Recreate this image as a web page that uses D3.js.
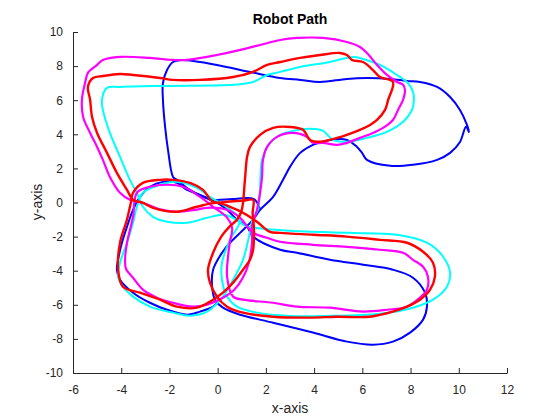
<!DOCTYPE html>
<html>
<head>
<meta charset="utf-8">
<script src="https://cdn.jsdelivr.net/npm/d3@7"></script>
<style>
  body { margin: 0; background: #fff; }
  svg { display: block; }
</style>
</head>
<body>
<div id="chart"></div>
<script>
// tick values
const xTicks = [-6, -4, -2, 0, 2, 4, 6, 8, 10, 12];
const yTicks = [-10, -8, -6, -4, -2, 0, 2, 4, 6, 8, 10];

// blue path: main closed route and the lower-left loop
const blueMain = [
  [-1.85,1.5],[-2.06,3.09],[-2.18,4.43],[-2.27,6.02],[-2.27,7.01],[-2.1,7.77],[-1.85,8.24],[-1.48,8.36],
  [-1.02,8.3],[-0.03,8.07],[1.34,7.66],[2.59,7.3],[3.42,7.19],[4.24,7.07],[5.36,7.25],[6.19,7.3],[7.15,7.25],
  [7.85,7.13],[8.39,7.07],[9.1,6.78],[9.64,6.19],[10.05,5.43],[10.34,4.55],[10.42,4.14],[10.3,4.45],
  [10.05,3.55],[9.64,2.91],[9.1,2.5],[8.1,2.21],[7.15,2.15],[6.19,2.5],[5.99,2.91],[5.78,3.26],[5.36,3.67],
  [4.66,3.67],[3.95,3.38],[3.42,2.91],[3.0,2.09],[2.71,1.33],[2.3,0.33],[1.76,-0.43],[1.47,-1.01],
  [0.93,-1.78],[0.51,-2.36],[0.18,-2.95],[-0.19,-3.94],[-0.23,-4.94],[-0.11,-5.7],[0.22,-6.17],[0.93,-6.58],
  [2.3,-7.05],[3.95,-7.63],[5.36,-8.16],[6.44,-8.34],[7.27,-8.16],[7.98,-7.63],[8.52,-6.87],[8.68,-6.11],
  [8.6,-5.29],[8.1,-4.41],[7.27,-3.94],[6.03,-3.65],[4.66,-3.36],[3.29,-2.95],[2.59,-2.77],[1.47,-2.0],
  [1.22,-1.42],[0.8,-1.01],[0.39,-0.43],[-0.03,0.0],[-0.61,0.33],[-1.15,0.74],[-1.69,1.33]
];
const blueLoop = [
  [1.75,-0.35],[1.5,0.2],[0.6,0.2],[-0.19,0.16],[-0.73,0.45],[-1.27,0.74],[-1.69,1.15],[-2.27,1.21],
  [-2.81,0.92],[-3.22,0.33],[-3.51,-0.43],[-3.76,-1.42],[-3.97,-2.36],[-4.13,-3.36],[-4.18,-3.94],
  [-4.05,-4.53],[-3.51,-5.29],[-2.81,-5.88],[-2.1,-6.29],[-1.27,-6.58],[-0.73,-6.4],[-0.19,-6.11],[0.1,-5.7]
];

// cyan path (closed route)
const cyanPath = [
  [-4.05,6.78],[-4.59,6.72],[-4.8,6.02],[-4.76,5.43],[-4.47,4.08],[-4.05,2.68],[-3.64,1.33],[-3.35,0.57],
  [-3.1,-0.25],[-2.68,-0.84],[-2.1,-1.13],[-1.27,-1.19],[-0.44,-0.9],[0.22,-0.72],[0.64,-0.9],[1.22,-1.4],
  [2.0,-1.55],[3.0,-1.65],[5.36,-1.78],[7.44,-1.89],[8.68,-2.36],[9.35,-3.18],[9.64,-4.12],[9.51,-4.94],
  [8.93,-5.7],[8.1,-6.17],[6.73,-6.52],[4.5,-6.65],[3.0,-6.65],[1.63,-6.46],[0.8,-6.11],[0.39,-5.52],
  [0.18,-4.53],[0.18,-3.53],[0.51,-2.19],[0.93,-1.01],[0.4,-0.3],[-0.32,0.33],[-0.86,0.86],[-1.69,1.21],
  [-2.39,1.04],[-3.1,0.57],[-3.35,-0.25],[-3.51,-1.19],[-3.76,-2.36],[-4.05,-3.53],[-4.13,-4.35],
  [-3.93,-4.94],[-3.51,-5.52],[-2.81,-6.11],[-1.85,-6.46],[-1.15,-6.64],[-0.44,-6.4],[0.22,-5.52],
  [0.64,-4.53],[1.05,-3.36],[1.3,-2.0],[1.45,-1.0],[1.67,-0.43],[1.76,0.92],[1.84,2.5],[2.17,3.5],
  [2.59,3.97],[3.12,4.2],[3.83,4.32],[4.37,4.2],[4.78,3.67],[5.36,3.56],[6.19,3.79],[7.02,4.14],
  [7.69,4.73],[8.06,5.43],[8.14,6.02],[8.1,6.49],[7.89,7.01],[7.44,7.48],[6.73,8.07],[6.03,8.42],
  [5.61,8.54],[4.66,8.24],[3.42,7.95],[2.59,7.66],[2.05,7.48],[1.47,7.07],[0.64,6.9],[-2.1,6.84]
];

// magenta path (closed route)
const magentaPath = [
  [-5.63,6.02],[-5.5,7.01],[-5.38,7.6],[-5.0,8.07],[-4.76,8.36],[-4.05,8.54],[-2.81,8.48],[-1.85,8.36],
  [-1.27,8.36],[-0.03,8.65],[0.93,8.95],[1.76,9.24],[2.59,9.53],[3.29,9.65],[4.37,9.65],[5.36,9.41],
  [5.9,9.12],[6.19,8.77],[6.61,8.07],[7.02,7.48],[7.44,7.07],[7.69,6.9],[7.77,6.6],[7.69,6.02],[7.48,5.43],
  [7.27,4.84],[6.86,4.38],[6.44,4.08],[5.9,3.79],[5.36,3.5],[4.95,3.38],[4.37,3.5],[3.95,3.5],[3.7,3.85],
  [3.12,4.08],[2.46,3.85],[2.05,3.26],[1.88,2.5],[1.84,1.5],[1.76,0.57],[1.63,-0.43],[1.42,-1.42],
  [1.42,-2.4],[1.3,-3.5],[1.05,-4.4],[0.7,-5.1],[0.2,-5.6],[-0.44,-5.99],[-1.02,-6.11],[-1.85,-5.88],
  [-2.52,-5.58],[-3.1,-5.11],[-3.51,-4.41],[-3.8,-3.9],[-3.84,-3.36],[-3.76,-2.36],[-3.51,-0.84],
  [-3.35,0.57],[-2.81,0.92],[-2.1,1.04],[-1.44,0.92],[-0.73,0.33],[-0.19,-0.25],[0.4,-0.9],[0.6,-1.5],
  [0.5,-2.36],[0.43,-3.18],[0.39,-4.35],[0.64,-5.52],[1.05,-5.7],[2.3,-5.88],[3.29,-6.11],[4.66,-6.17],
  [6.03,-6.4],[7.02,-6.29],[7.85,-6.11],[8.39,-5.58],[8.68,-5.11],[8.72,-4.35],[8.52,-3.77],[8.1,-3.36],
  [7.69,-2.95],[6.73,-2.77],[5.36,-2.6],[3.95,-2.48],[2.59,-2.3],[2.05,-2.07],[1.47,-1.78],[0.93,-0.9],
  [0.39,-0.43],[-0.32,-0.3],[-1.02,-0.45],[-1.69,-0.55],[-2.39,-0.4],[-3.1,-0.02],[-3.64,0.16],
  [-4.05,0.57],[-4.47,1.5],[-4.76,2.5],[-5.0,3.26],[-5.29,4.08],[-5.58,5.02]
];

// red path: main closed route and the lower-left loop
const redMain = [
  [-4.05,7.54],[-4.76,7.42],[-5.17,7.3],[-5.38,6.78],[-5.29,6.02],[-5.21,5.02],[-5.0,4.08],[-4.59,2.91],
  [-4.18,1.74],[-3.76,0.74],[-3.51,0.16],[-3.1,-0.02],[-2.68,-0.31],[-1.69,-0.54],[-0.86,-0.25],
  [-0.03,-0.02],[0.51,-0.25],[1.05,-0.6],[1.63,-1.13],[2.17,-1.72],[2.59,-1.78],[3.95,-1.89],[5.36,-2.0],
  [6.73,-2.19],[7.85,-2.36],[8.52,-2.89],[8.93,-3.53],[9.01,-4.35],[8.81,-5.11],[8.39,-5.7],[7.85,-6.11],
  [7.27,-6.4],[6.32,-6.7],[4.95,-6.7],[3.83,-6.75],[2.3,-6.7],[1.05,-6.46],[0.39,-6.11],[-0.03,-5.52],
  [-0.32,-4.7],[-0.4,-3.94],[-0.19,-2.95],[0.15,-2.0],[0.5,-1.4],[0.8,-1.01],[1.0,-0.43],[1.13,1.33],
  [1.22,2.68],[1.34,3.26],[1.76,3.97],[2.3,4.38],[3.0,4.43],[3.54,4.26],[3.83,3.67],[4.24,3.56],
  [4.95,3.79],[5.36,3.97],[5.9,4.26],[6.32,4.55],[6.61,4.84],[6.94,5.43],[7.07,6.02],[7.27,7.07],
  [6.73,7.36],[6.44,7.77],[6.03,8.24],[5.57,8.36],[5.36,8.65],[5.07,8.77],[4.24,8.65],[3.42,8.48],
  [2.59,8.24],[2.05,8.07],[1.47,7.66],[0.64,7.36],[-0.73,7.19],[-1.85,7.19],[-2.39,7.3],[-3.51,7.48]
];
const redLoop = [
  [-0.19,0.04],[0.5,0.06],[1.05,0.1],[1.47,0.16],[1.45,-0.6],[1.5,-1.4],[1.5,-2.2],[1.47,-2.77],
  [1.34,-3.36],[1.05,-3.94],[0.64,-4.7],[0.22,-5.29],[-0.19,-5.7],[-0.86,-6.17],[-1.69,-6.11],
  [-2.39,-5.7],[-3.22,-5.29],[-3.93,-4.94],[-4.13,-3.94],[-4.05,-2.36],[-3.76,-1.0],[-3.6,0.0],
  [-3.51,0.57],[-3.1,1.15],[-2.39,1.33],[-1.85,1.33],[-1.15,1.15],[-0.61,0.74]
];

const width = 560;
const height = 420;
const font = "'Liberation Sans', Arial, Helvetica, sans-serif";
const axisColor = "#262626";

const svg = d3.select("#chart").append("svg")
    .attr("width", width)
    .attr("height", height)
    .style("font-family", font);

const x = d3.scaleLinear().domain([-6, 12]).range([73, 507]);
const y = d3.scaleLinear().domain([-10, 10]).range([373, 32]);

// paths
const line = d3.line()
    .x(d => x(d[0]))
    .y(d => y(d[1]));

function drawPath(data, color, closed, w) {
    const gen = line.curve(closed ? d3.curveCatmullRomClosed.alpha(0.5) : d3.curveCatmullRom.alpha(0.5));
    svg.append("path")
        .attr("d", gen(data))
        .attr("fill", "none")
        .attr("stroke", color)
        .attr("stroke-width", w)
        .attr("stroke-linejoin", "round");
}

drawPath(blueMain, "#0000ff", true, 2);
drawPath(blueLoop, "#0000ff", false, 2);
drawPath(cyanPath, "#00ffff", true, 2);
drawPath(magentaPath, "#ff00ff", true, 2.2);
drawPath(redMain, "#ff0000", true, 2.4);
drawPath(redLoop, "#ff0000", true, 2.4);

// axes (ticks pointing inward, no box)
const xAxis = d3.axisBottom(x)
    .tickValues(xTicks)
    .tickSizeInner(-5)
    .tickSizeOuter(0)
    .tickPadding(12)
    .tickFormat(d => String(d));
const yAxis = d3.axisLeft(y)
    .tickValues(yTicks)
    .tickSizeInner(-5)
    .tickSizeOuter(0)
    .tickPadding(10)
    .tickFormat(d => String(d));

const gx = svg.append("g").attr("transform", `translate(0,${y(-10)})`).call(xAxis);
const gy = svg.append("g").attr("transform", `translate(${x(-6)},0)`).call(yAxis);

[gx, gy].forEach(g => {
    g.select(".domain").attr("stroke", axisColor);
    g.selectAll(".tick line").attr("stroke", axisColor);
    g.selectAll(".tick text")
        .attr("fill", axisColor)
        .style("font-size", "12px")
        .style("font-family", font);
});

// title and labels
svg.append("text")
    .attr("x", 290)
    .attr("y", 24)
    .attr("text-anchor", "middle")
    .style("font-size", "14px")
    .style("font-weight", "bold")
    .attr("fill", "#000")
    .text("Robot Path");

svg.append("text")
    .attr("x", 290)
    .attr("y", 413)
    .attr("text-anchor", "middle")
    .style("font-size", "14px")
    .attr("fill", axisColor)
    .text("x-axis");

svg.append("text")
    .attr("transform", "translate(42,202) rotate(-90)")
    .attr("text-anchor", "middle")
    .style("font-size", "14px")
    .attr("fill", axisColor)
    .text("y-axis");
</script>
</body>
</html>
